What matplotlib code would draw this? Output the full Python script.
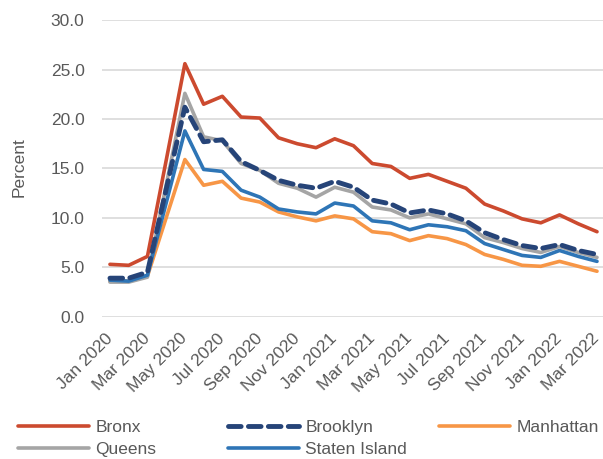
import matplotlib.pyplot as plt

plt.rcParams["font.family"] = ["Liberation Sans", "DejaVu Sans"]

months = ["Jan 2020", "Feb 2020", "Mar 2020", "Apr 2020", "May 2020", "Jun 2020",
          "Jul 2020", "Aug 2020", "Sep 2020", "Oct 2020", "Nov 2020", "Dec 2020",
          "Jan 2021", "Feb 2021", "Mar 2021", "Apr 2021", "May 2021", "Jun 2021",
          "Jul 2021", "Aug 2021", "Sep 2021", "Oct 2021", "Nov 2021", "Dec 2021",
          "Jan 2022", "Feb 2022", "Mar 2022"]

bronx = [5.3, 5.2, 6.1, 15.8, 25.6, 21.5, 22.3, 20.2, 20.1, 18.1, 17.5, 17.1,
         18.0, 17.3, 15.5, 15.2, 14.0, 14.4, 13.7, 13.0, 11.4, 10.7, 9.9, 9.5,
         10.3, 9.4, 8.6]
brooklyn = [3.9, 3.9, 4.5, 12.9, 21.2, 17.7, 17.9, 15.7, 14.8, 13.8, 13.3, 13.0,
            13.7, 13.1, 11.8, 11.4, 10.5, 10.8, 10.4, 9.7, 8.5, 7.8, 7.2, 6.9,
            7.3, 6.7, 6.3]
manhattan = [3.6, 3.6, 4.1, 10.0, 15.9, 13.3, 13.7, 12.0, 11.6, 10.6, 10.1, 9.7,
             10.2, 9.9, 8.6, 8.4, 7.7, 8.2, 7.9, 7.3, 6.3, 5.8, 5.2, 5.1,
             5.6, 5.1, 4.6]
queens = [3.5, 3.5, 4.0, 13.3, 22.6, 18.2, 17.8, 15.5, 14.8, 13.5, 13.0, 12.1,
          13.1, 12.6, 11.1, 10.8, 10.0, 10.4, 9.9, 9.4, 8.0, 7.5, 6.9, 6.5,
          7.1, 6.5, 6.0]
staten_island = [3.7, 3.6, 4.2, 11.5, 18.8, 14.9, 14.7, 12.8, 12.1, 10.9, 10.6, 10.4,
                 11.5, 11.2, 9.7, 9.5, 8.8, 9.3, 9.1, 8.7, 7.4, 6.8, 6.2, 6.0,
                 6.7, 6.1, 5.6]

names = ["Bronx", "Brooklyn", "Manhattan", "Queens", "Staten Island"]
series = [bronx, brooklyn, manhattan, queens, staten_island]
colors = ["#CC4A2F", "#264478", "#F79646", "#A5A5A5", "#2E75B6"]

fig = plt.figure(figsize=(6.03, 4.59), dpi=100)
ax = fig.add_axes([0.169, 0.31, 0.831, 0.646])

x = list(range(len(months)))
handles = {}
for name, vals, c in zip(names, series, colors):
    if name == "Brooklyn":
        ln, = ax.plot(x, vals, color=c, lw=3.5, dashes=(2.6, 1.5),
                      dash_capstyle="round", solid_capstyle="round", zorder=3)
    else:
        ln, = ax.plot(x, vals, color=c, lw=2.6, solid_capstyle="round", zorder=2)
    handles[name] = ln

ax.set_xlim(-0.43, 26.32)
ax.set_ylim(0, 30)
yt = [0, 5, 10, 15, 20, 25, 30]
ax.set_yticks(yt)
ax.set_yticklabels([f"{v:.1f}" for v in yt])
ax.set_xticks(x[::2])
ax.set_xticklabels(months[::2], rotation=45, ha="right", va="center",
                   rotation_mode="anchor")
ax.tick_params(axis="both", length=0, labelsize=12.5, colors="#595959")
ax.tick_params(axis="y", pad=12.5)
ax.tick_params(axis="x", pad=14)
ax.grid(axis="y", color="#D9D9D9", lw=1.2)
ax.set_axisbelow(True)
for s in ax.spines.values():
    s.set_visible(False)
ax.set_ylabel("Percent", fontsize=12.5, color="#595959")
ax.yaxis.set_label_coords(-0.15, 0.505)

# excel-style legend: three fixed-width columns under the plot
cols = [["Bronx", "Queens"], ["Brooklyn", "Staten Island"], ["Manhattan"]]
xpos = [18, 228, 439]
for col, xp in zip(cols, xpos):
    leg = fig.legend([handles[n] for n in col], col, loc="upper left",
                     bbox_to_anchor=(xp / 603, 1 - 420 / 459), frameon=False,
                     fontsize=12.5, handlelength=4.1, handletextpad=0.35,
                     labelspacing=0.4, borderaxespad=0, borderpad=0)
    for t in leg.get_texts():
        t.set_color("#595959")

fig.savefig("out.png", dpi=100)
